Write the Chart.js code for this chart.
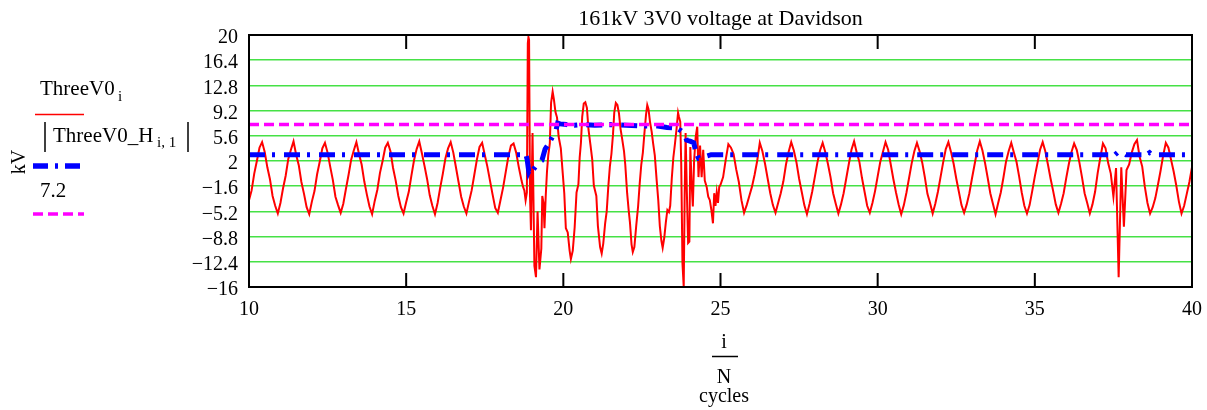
<!DOCTYPE html>
<html>
<head>
<meta charset="utf-8">
<script src="https://cdn.jsdelivr.net/npm/chart.js@4.4.1/dist/chart.umd.min.js"></script>
<style>
  body { margin: 0; background: #fff; }
  canvas { display: block; }
</style>
</head>
<body>
<canvas id="myChart" width="1207" height="410"></canvas>
<script>
const chartTitle = '161kV 3V0 voltage at Davidson';
const xTicks = [10, 15, 20, 25, 30, 35, 40];
const yTicks = [-16, -12.4, -8.8, -5.2, -1.6, 2, 5.6, 9.2, 12.8, 16.4, 20];
const samplesPerCycle = 12;

// ThreeV0_i (kV), 12 samples per cycle, from 10 to 18.5 cycles
const threeV0Pre = [
    -3.6, -2.2, 0.2, 2.0, 3.9, 4.7, 3.3, 1.1, -0.6, -3.0, -4.4, -5.5,
    -4.0, -1.9, -0.1, 2.3, 3.6, 4.8, 2.9, 1.4, -1.0, -2.7, -4.6, -5.6,
    -3.8, -2.3, 0.1, 1.9, 3.8, 4.6, 3.2, 1.2, -0.7, -3.1, -4.3, -5.4,
    -4.1, -2.0, 0.0, 2.2, 3.5, 4.7, 3.0, 1.5, -0.9, -2.8, -4.5, -5.6,
    -3.7, -2.1, 0.3, 2.0, 3.9, 4.6, 3.4, 1.0, -0.8, -3.0, -4.6, -5.5,
    -3.9, -2.4, -0.1, 2.1, 3.7, 4.8, 3.1, 1.3, -0.6, -2.9, -4.4, -5.6,
    -4.0, -1.8, 0.2, 2.4, 3.8, 4.7, 3.2, 1.1, -1.0, -3.1, -4.5, -5.5,
    -3.8, -2.2, 0.0, 2.2, 4.0, 4.6, 2.9, 1.2, -0.8, -2.8, -4.7, -5.4,
    -3.6, -1.8, 0.4, 2.6, 4.2, 4.5, 3.2
];

// fault interval, read point by point (cycles, kV)
const faultT = [
    18.58, 18.62, 18.67, 18.72, 18.76, 18.80, 18.84, 18.87, 18.89, 18.91,
    18.94, 18.97, 19.02, 19.08, 19.13, 19.18, 19.24, 19.30, 19.33, 19.37,
    19.40, 19.44, 19.48, 19.52, 19.57, 19.61, 19.66, 19.70, 19.75, 19.80,
    19.85, 19.92, 19.98, 20.03, 20.08, 20.14, 20.20, 20.24, 20.30, 20.36,
    20.42, 20.48, 20.52, 20.56, 20.60, 20.65, 20.70, 20.75, 20.80, 20.86,
    20.92, 20.97, 21.05, 21.10, 21.17, 21.22, 21.27, 21.33, 21.38, 21.43,
    21.48, 21.53, 21.58, 21.62, 21.67, 21.72, 21.77, 21.82, 21.87, 21.93,
    21.97, 22.03, 22.08, 22.12, 22.17, 22.21, 22.26, 22.32, 22.38, 22.43,
    22.48, 22.53, 22.58, 22.63, 22.67, 22.71, 22.76, 22.81, 22.86, 22.91,
    22.97, 23.02, 23.07, 23.12, 23.16, 23.21, 23.26, 23.31, 23.36, 23.40,
    23.45, 23.50, 23.55, 23.60, 23.65, 23.68, 23.72, 23.75, 23.79, 23.83,
    23.86, 23.89, 23.93, 23.97, 24.01, 24.04, 24.08, 24.12, 24.16, 24.21,
    24.26, 24.30, 24.35, 24.40, 24.45, 24.50, 24.56, 24.61, 24.66, 24.71,
    24.76, 24.80, 24.84, 24.88, 24.92, 24.96
];
const faultV = [
    1.2, 0.3, -0.8, -1.7, -2.2, -3.6, -2.5, 18.8, 19.7, 19.3,
    -3.0, -7.9, 6.0, -13.0, -14.6, -5.2, -13.5, -10.5, -3.0, -4.0,
    -7.6, -3.0, 0.5, 2.8, 4.5, 10.3, 11.9, 10.8, 9.0, 8.2,
    5.5, 3.8, 0.3, -2.6, -7.6, -8.2, -10.8, -12.0, -10.8, -7.5,
    -2.5, -1.3, 2.5, 4.6, 8.3, 10.2, 10.4, 9.6, 6.5, 4.4,
    2.2, -1.5, -3.0, -7.3, -10.3, -11.2, -9.8, -6.9, -5.2, -1.7,
    1.2, 3.0, 5.8, 8.9, 10.3, 10.0, 8.8, 6.6, 5.2, 3.4,
    1.5, -2.6, -5.1, -6.8, -9.9, -11.0, -10.3, -7.2, -4.4, -1.2,
    1.5, 3.2, 6.0, 8.6, 10.0, 9.4, 7.5, 6.2, 4.4, 2.8,
    -0.8, -3.6, -7.3, -9.4, -10.4, -9.0, -6.8, -5.0, -5.3, -4.4,
    -0.5, 2.5, 4.4, 6.5, 8.9, 8.3, 7.6, 1.7, -12.6, -16.0,
    -3.0, 6.0, -2.5, -9.7, -9.5, 4.0, -1.1, -4.5, 2.0, 5.4,
    6.9, -0.3, 4.2, -0.3, 3.6, -0.8, -1.7, -3.1, -3.6, -5.0,
    -6.9, -2.6, -4.4, -2.5, -4.0, -1.7
];

// ThreeV0_i (kV), 12 samples per cycle, from 25 to 40 cycles
const threeV0Post = [
    -1.4, -0.3, 2.2, 4.4, 3.9, 3.0, 0.8, -1.0, -3.6, -5.4, -4.3, -3.0,
    -1.7, 0.0, 2.0, 4.6, 3.4, 1.6, -0.5, -2.6, -4.3, -5.4, -4.0, -2.6,
    -0.9, 1.5, 3.3, 4.7, 3.5, 1.8, -0.5, -2.4, -4.3, -5.6, -4.1, -2.4,
    -0.3, 1.8, 3.5, 4.6, 3.3, 1.6, -0.3, -2.6, -4.1, -5.5, -4.2, -2.6,
    -0.5, 1.6, 3.6, 4.8, 3.2, 1.9, -0.4, -2.4, -4.4, -5.4, -4.0, -2.3,
    -0.2, 1.9, 3.3, 4.7, 3.6, 1.5, -0.6, -2.5, -4.2, -5.6, -4.3, -2.5,
    -0.4, 1.7, 3.4, 4.6, 3.4, 1.8, -0.3, -2.7, -4.0, -5.5, -4.1, -2.4,
    -0.3, 1.8, 3.7, 4.7, 3.3, 1.6, -0.5, -2.4, -4.3, -5.4, -4.2, -2.6,
    -0.5, 1.5, 3.5, 4.8, 3.5, 1.7, -0.4, -2.6, -4.1, -5.6, -4.0, -2.5,
    -0.4, 1.9, 3.4, 4.6, 3.2, 1.9, -0.2, -2.5, -4.4, -5.5, -4.3, -2.3,
    -0.2, 1.7, 3.6, 4.7, 3.4, 1.5, -0.5, -2.3, -4.2, -5.4, -4.1, -2.6,
    -0.4, 1.6, 3.3, 4.5, 3.6, 1.8, -0.3, -2.6, -4.0, -5.5, -4.2, -2.4,
    0.3, 2.5, 4.5, 3.8, 1.7, 0.2, -3.1, 1.0, -14.6, 1.1, -7.4, 0.7,
    1.5, 3.2, 4.4, 5.0, 2.6, 1.2, -1.7, -4.0, -5.5, -4.6, -3.3, -1.4,
    0.6, 2.8, 4.6, 3.9, 2.2, 0.5, -1.5, -3.8, -5.5, -4.4, -2.7, -1.0,
    1.1
];

// |ThreeV0_H i,1| fundamental magnitude (cycles, kV)
const harmT = [10, 18.75, 18.80, 18.85, 18.90, 18.95, 19.05, 19.15, 19.25, 19.32,
    19.42, 19.55, 19.65, 19.75, 19.82, 19.90, 20.10, 20.35, 20.60, 21.00,
    21.50, 22.00, 22.50, 23.00, 23.30, 23.60, 23.75, 23.85, 23.92, 24.05,
    24.15, 24.22, 24.30, 24.45, 24.55, 24.70, 37.55, 37.65, 37.80, 37.90,
    38.55, 38.65, 38.72, 40];
const harmV = [2.9, 2.9, 3.1, 2.2, 0.5, 1.0, 0.8, 1.4, 1.9, 2.1,
    3.7, 4.6, 5.4, 6.1, 7.4, 7.3, 7.2, 7.1, 7.2, 7.1,
    7.2, 7.1, 7.0, 7.0, 6.8, 6.7, 6.3, 5.9, 5.0, 4.8,
    4.6, 3.2, 2.4, 2.5, 2.7, 2.9, 2.9, 3.3, 3.2, 2.9,
    2.9, 3.2, 2.9, 2.9];

const limitT = [10, 40];
const limitV = [7.2, 7.2];

const redPts = [];
threeV0Pre.forEach((v, k) => redPts.push({x: 10 + k / samplesPerCycle, y: v}));
faultT.forEach((t, k) => redPts.push({x: t, y: faultV[k]}));
threeV0Post.forEach((v, k) => redPts.push({x: 25 + k / samplesPerCycle, y: v}));

const serif = '"Liberation Serif", "Times New Roman", serif';
Chart.defaults.font.family = serif;
Chart.defaults.color = '#000';

const fmt = v => (v < 0 ? '\u2212' + Math.abs(v) : String(v));

// frame, inward ticks, title, axis labels and legend the Mathcad way
const decor = {
    id: 'decor',
    afterDatasetsDraw(chart) {
        const {ctx, chartArea: a, scales: {x}} = chart;
        ctx.save();
        ctx.strokeStyle = '#000';
        ctx.lineWidth = 2;
        ctx.setLineDash([]);
        ctx.strokeRect(a.left, a.top, a.right - a.left, a.bottom - a.top);
        xTicks.forEach(v => {
            if (v === xTicks[0] || v === xTicks[xTicks.length - 1]) return;
            const px = x.getPixelForValue(v);
            ctx.beginPath();
            ctx.moveTo(px, a.top); ctx.lineTo(px, a.top + 14);
            ctx.moveTo(px, a.bottom); ctx.lineTo(px, a.bottom - 14);
            ctx.stroke();
        });

        ctx.fillStyle = '#000';
        ctx.textBaseline = 'alphabetic';
        ctx.textAlign = 'center';
        ctx.font = '22px ' + serif;
        ctx.fillText(chartTitle, (a.left + a.right) / 2, 25);

        // x label: i / N, cycles
        const cx = 724;
        ctx.font = '20px ' + serif;
        ctx.fillText('i', cx, 348);
        ctx.lineWidth = 1.5;
        ctx.beginPath(); ctx.moveTo(712, 356.5); ctx.lineTo(738, 356.5); ctx.stroke();
        ctx.fillText('N', cx, 383);
        ctx.fillText('cycles', cx, 402);

        // y label
        ctx.save();
        ctx.translate(25, 162);
        ctx.rotate(-Math.PI / 2);
        ctx.fillText('kV', 0, 0);
        ctx.restore();

        // legend
        ctx.textAlign = 'left';
        ctx.font = '21px ' + serif;
        ctx.fillText('ThreeV0', 40, 95);
        ctx.font = '15px ' + serif;
        ctx.fillText('i', 118, 101);
        ctx.strokeStyle = '#ff0000';
        ctx.lineWidth = 1.5;
        ctx.beginPath(); ctx.moveTo(35, 114.5); ctx.lineTo(84, 114.5); ctx.stroke();

        ctx.strokeStyle = '#000';
        ctx.lineWidth = 1.5;
        ctx.beginPath(); ctx.moveTo(45, 122); ctx.lineTo(45, 152); ctx.stroke();
        ctx.beginPath(); ctx.moveTo(188, 122); ctx.lineTo(188, 152); ctx.stroke();
        ctx.font = '21px ' + serif;
        ctx.fillText('ThreeV0_H', 53, 142);
        ctx.font = '15px ' + serif;
        ctx.fillText('i, 1', 157, 147);

        ctx.strokeStyle = '#0000ff';
        ctx.lineWidth = 5.5;
        ctx.setLineDash([15, 7, 3, 7]);
        ctx.beginPath(); ctx.moveTo(33, 166); ctx.lineTo(83, 166); ctx.stroke();

        ctx.font = '21px ' + serif;
        ctx.fillText('7.2', 40, 197);
        ctx.strokeStyle = '#ff00ff';
        ctx.lineWidth = 3.5;
        ctx.setLineDash([10, 5]);
        ctx.beginPath(); ctx.moveTo(33, 214); ctx.lineTo(84, 214); ctx.stroke();
        ctx.restore();
    }
};

const config = {
    type: 'line',
    data: {
        datasets: [
            {
                label: 'ThreeV0 i',
                data: redPts,
                borderColor: '#ff0000',
                borderWidth: 2,
                pointRadius: 0,
                order: 3
            },
            {
                label: '|ThreeV0_H i,1|',
                data: harmT.map((t, k) => ({x: t, y: harmV[k]})),
                borderColor: '#0000ff',
                borderWidth: 5,
                borderDash: [16, 7, 3, 9],
                pointRadius: 0,
                order: 2
            },
            {
                label: '7.2',
                data: limitT.map((t, k) => ({x: t, y: limitV[k]})),
                borderColor: '#ff00ff',
                borderWidth: 3.5,
                borderDash: [10, 5],
                pointRadius: 0,
                order: 1
            }
        ]
    },
    options: {
        responsive: false,
        animation: false,
        layout: { padding: { left: 0, right: 15, top: 35, bottom: 0 } },
        plugins: { legend: { display: false }, tooltip: { enabled: false }, title: { display: false } },
        scales: {
            x: {
                type: 'linear',
                min: 10,
                max: 40,
                afterBuildTicks: axis => { axis.ticks = xTicks.map(v => ({value: v})); },
                afterFit: axis => {
                    axis.height = 123;
                    axis.paddingLeft = 0;
                    axis.paddingRight = 0;
                },
                grid: { display: false, drawTicks: false },
                border: { display: false },
                ticks: { font: { size: 20 }, padding: 11, maxRotation: 0, autoSkip: false, color: '#000' }
            },
            y: {
                type: 'linear',
                min: -16,
                max: 20,
                afterBuildTicks: axis => { axis.ticks = yTicks.map(v => ({value: v})); },
                afterFit: axis => {
                    axis.width = 249;
                    axis.paddingTop = 0;
                    axis.paddingBottom = 0;
                },
                grid: {
                    drawTicks: false,
                    lineWidth: 1.5,
                    color: c => (c.tick && (c.tick.value === -16 || c.tick.value === 20)) ? 'rgba(0,0,0,0)' : 'rgb(70,225,70)'
                },
                border: { display: false },
                ticks: {
                    font: { size: 20 },
                    padding: 11,
                    labelOffset: 3,
                    autoSkip: false,
                    color: '#000',
                    callback: v => fmt(v)
                }
            }
        }
    },
    plugins: [decor]
};

let myChart = new Chart(document.getElementById('myChart'), config);
</script>
</body>
</html>
